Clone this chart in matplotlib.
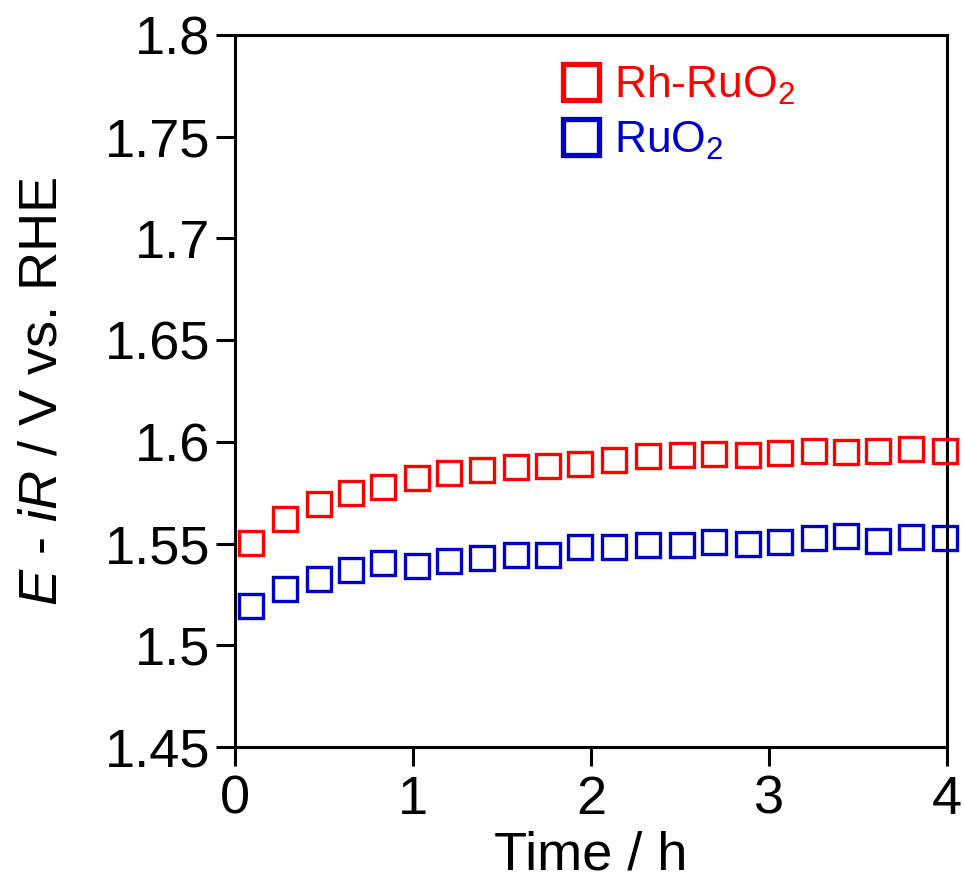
import matplotlib
matplotlib.use("Agg")
import matplotlib.pyplot as plt
from matplotlib.lines import Line2D

plt.rcParams['font.family'] = ['Liberation Sans', 'DejaVu Sans']
plt.rcParams['mathtext.fontset'] = 'custom'
plt.rcParams['mathtext.rm'] = 'Liberation Sans'
plt.rcParams['mathtext.it'] = 'Liberation Sans:italic'

# Data
time_h = [0.09, 0.28, 0.47, 0.65, 0.83, 1.02, 1.20, 1.39, 1.58, 1.76, 1.94,
          2.13, 2.32, 2.51, 2.69, 2.88, 3.06, 3.25, 3.43, 3.61, 3.80, 3.99]
rh_ruo2 = [1.5503, 1.5621, 1.5695, 1.5748, 1.5780, 1.5821, 1.5848, 1.5864,
           1.5875, 1.5880, 1.5892, 1.5913, 1.5931, 1.5937, 1.5942, 1.5935,
           1.5945, 1.5954, 1.5949, 1.5955, 1.5964, 1.5953]
ruo2 = [1.5191, 1.5279, 1.5326, 1.5370, 1.5403, 1.5392, 1.5413, 1.5429,
        1.5444, 1.5444, 1.5483, 1.5482, 1.5495, 1.5495, 1.5506, 1.5498,
        1.5506, 1.5528, 1.5536, 1.5515, 1.5533, 1.5525]
labels = ['Rh-RuO$_2$', 'RuO$_2$']
colors = ['#ff0000', '#0000cc']
y_ticks = [1.45, 1.5, 1.55, 1.6, 1.65, 1.7, 1.75, 1.8]
y_tick_labels = ['1.45', '1.5', '1.55', '1.6', '1.65', '1.7', '1.75', '1.8']
x_ticks = [0, 1, 2, 3, 4]

fig = plt.figure(figsize=(9.64, 8.84), dpi=100)
ax = fig.add_axes([0.2438, 0.155, 0.7386, 0.8054])

for ys, c in zip([rh_ruo2, ruo2], colors):
    ax.plot(time_h, ys, linestyle='none', marker='s', markersize=17,
            markerfacecolor='none', markeredgecolor=c, markeredgewidth=2.4,
            clip_on=False, zorder=3)

ax.set_xlim(0, 4)
ax.set_ylim(1.45, 1.8)
ax.set_xticks(x_ticks)
ax.set_yticks(y_ticks)
ax.set_yticklabels(y_tick_labels)
ax.tick_params(direction='out', length=14, width=2.2, labelsize=39, pad=4,
               top=False, right=False)
ax.tick_params(axis='x', pad=6)
for s in ax.spines.values():
    s.set_linewidth(2.2)

ax.set_xlabel('Time / h', fontsize=39, labelpad=4)
ax.set_ylabel(r'$\it{E}$ - $\it{iR}$ / V vs. RHE', fontsize=39, labelpad=27)

handles = [Line2D([], [], linestyle='none', marker='s', markersize=26,
                  markerfacecolor='none', markeredgecolor=c, markeredgewidth=3.8)
           for c in colors]
ax.legend(handles, labels, loc='upper left', bbox_to_anchor=(0.405, 1.01),
          frameon=False, fontsize=32, handlelength=1.0, handletextpad=0.25,
          labelspacing=0.3, labelcolor=colors, borderpad=0.3)

fig.savefig('out.png', dpi=100)
